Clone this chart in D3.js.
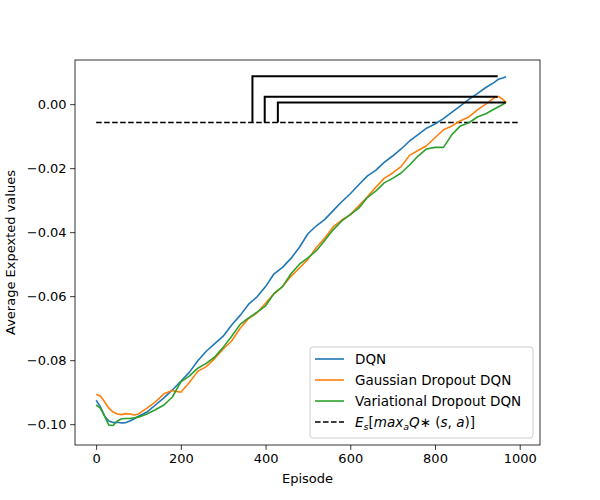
<!DOCTYPE html>
<html lang="en">
<head>
<meta charset="utf-8">
<title>Average expected values</title>
<script src="https://cdn.jsdelivr.net/npm/d3@7/dist/d3.min.js"></script>
<style>
  body { margin: 0; background: #fff; }
  text { font-family: "DejaVu Sans", sans-serif; }
</style>
</head>
<body>
<script>
// ---- data ----
var episodes = [0, 10, 20, 30, 40, 50, 60, 70, 80, 90,
  100, 120, 140, 160, 180, 200, 220, 240, 260, 280, 300, 320, 340, 360, 380,
  400, 420, 440, 460, 480, 500, 520, 540, 560, 580, 600, 620, 640, 660, 680,
  700, 720, 740, 760, 780, 800, 820, 840, 860, 880, 900, 920, 940, 950, 960, 968];

var dqn = [-0.0925, -0.0945, -0.0975, -0.0990, -0.0995, -0.0994, -0.0996, -0.0995, -0.0990, -0.0983,
  -0.0975, -0.0962, -0.0940, -0.0918, -0.0893, -0.0866, -0.0838, -0.0802, -0.0772, -0.0748,
  -0.0725, -0.0690, -0.0660, -0.0625, -0.0602, -0.0570, -0.0530, -0.0510, -0.0482, -0.0447,
  -0.0405, -0.0380, -0.0360, -0.0332, -0.0305, -0.0280, -0.0252, -0.0225, -0.0207, -0.0182,
  -0.0162, -0.0140, -0.0115, -0.0095, -0.0075, -0.0062, -0.0045, -0.0025, -0.0005, 0.0015,
  0.0033, 0.0052, 0.0068, 0.0078, 0.0082, 0.0086];

var gaussian = [-0.0907, -0.0912, -0.0930, -0.0950, -0.0962, -0.0968, -0.0970, -0.0967, -0.0968, -0.0971,
  -0.0968, -0.0950, -0.0930, -0.0905, -0.0895, -0.0900, -0.0870, -0.0835, -0.0820, -0.0795,
  -0.0765, -0.0740, -0.0700, -0.0670, -0.0652, -0.0622, -0.0592, -0.0570, -0.0538, -0.0512,
  -0.0485, -0.0448, -0.0418, -0.0383, -0.0362, -0.0345, -0.0318, -0.0290, -0.0260, -0.0232,
  -0.0215, -0.0195, -0.0160, -0.0145, -0.0130, -0.0105, -0.0080, -0.0068, -0.0052, -0.0040,
  -0.0018, 0.0000, 0.0020, 0.0024, 0.0015, 0.0006];

var variational = [-0.0940, -0.0950, -0.0975, -0.1003, -0.1004, -0.0990, -0.0983, -0.0982, -0.0982, -0.0980,
  -0.0978, -0.0968, -0.0955, -0.0940, -0.0915, -0.0868, -0.0850, -0.0825, -0.0810, -0.0790,
  -0.0760, -0.0725, -0.0688, -0.0668, -0.0650, -0.0630, -0.0592, -0.0570, -0.0530, -0.0500,
  -0.0480, -0.0458, -0.0425, -0.0392, -0.0365, -0.0345, -0.0325, -0.0292, -0.0272, -0.0246,
  -0.0232, -0.0215, -0.0190, -0.0162, -0.0140, -0.0135, -0.0135, -0.0095, -0.0068, -0.0058,
  -0.0040, -0.0030, -0.0015, -0.0008, -0.0001, 0.0006];

var seriesNames = ["DQN", "Gaussian Dropout DQN", "Variational Dropout DQN"];
var seriesColors = ["#1f77b4", "#ff7f0e", "#2ca02c"];

// dashed reference level E_s[max_a Q*(s,a)]
var refLevel = -0.00575;
var refEpisodes = [0, 997];

// bracket markers: left episode, right episode, top value
var bracketStart = [369, 398, 429];
var bracketEnd = [948, 948, 967];
var bracketTop = [0.0087, 0.0023, 0.0005];

var xTicks = [0, 200, 400, 600, 800, 1000];
var yTicks = [-0.10, -0.08, -0.06, -0.04, -0.02, 0.00];

// ---- layout ----
var w = 600, h = 500;
var padL = 75, padR = 540, padT = 60, padB = 445;

var svg = d3.select("body").append("svg")
  .attr("width", w)
  .attr("height", h);

var x = d3.scaleLinear().domain([-49.9, 1047.9]).range([padL, padR]);
var y = d3.scaleLinear().domain([-0.1065, 0.0138]).range([padB, padT]);

var plot = svg.append("g");

// reference dashed line
plot.append("line")
  .attr("x1", x(refEpisodes[0])).attr("x2", x(refEpisodes[1]))
  .attr("y1", y(refLevel)).attr("y2", y(refLevel))
  .attr("stroke", "black")
  .attr("stroke-width", 1.6)
  .attr("stroke-dasharray", "5.6,2.4");

// series lines
var line = d3.line()
  .x(function(d) { return x(d[0]); })
  .y(function(d) { return y(d[1]); });

[dqn, gaussian, variational].forEach(function(vals, i) {
  plot.append("path")
    .attr("d", line(episodes.map(function(e, j) { return [e, vals[j]]; })))
    .attr("fill", "none")
    .attr("stroke", seriesColors[i])
    .attr("stroke-width", 1.6)
    .attr("stroke-linejoin", "round");
});

// brackets
bracketStart.forEach(function(s, i) {
  plot.append("path")
    .attr("d", line([[s, refLevel], [s, bracketTop[i]], [bracketEnd[i], bracketTop[i]]]))
    .attr("fill", "none")
    .attr("stroke", "black")
    .attr("stroke-width", 2);
});

// axes
var xAxis = d3.axisBottom(x).tickValues(xTicks).tickSize(4.9).tickPadding(3.5)
  .tickFormat(d3.format("d"));
var yAxis = d3.axisLeft(y).tickValues(yTicks).tickSize(4.9).tickPadding(3.5)
  .tickFormat(function(d) { return d3.format(".2f")(d).replace("-", "\u2212"); });

var gx = svg.append("g").attr("transform", "translate(0," + padB + ")").call(xAxis);
var gy = svg.append("g").attr("transform", "translate(" + padL + ",0)").call(yAxis);
[gx, gy].forEach(function(g) {
  g.select(".domain").remove();
  g.selectAll("line").attr("stroke", "black").attr("stroke-width", 0.8);
  g.selectAll("text").attr("font-size", "13px").attr("fill", "black")
    .attr("font-family", "DejaVu Sans, sans-serif");
});

// frame
svg.append("rect")
  .attr("x", padL).attr("y", padT)
  .attr("width", padR - padL).attr("height", padB - padT)
  .attr("fill", "none")
  .attr("stroke", "black")
  .attr("stroke-width", 0.8);

// axis labels
svg.append("text")
  .attr("x", (padL + padR) / 2).attr("y", 483)
  .attr("text-anchor", "middle")
  .attr("font-size", "13px")
  .text("Episode");

svg.append("text")
  .attr("transform", "translate(15," + (padT + padB) / 2 + ") rotate(-90)")
  .attr("text-anchor", "middle")
  .attr("font-size", "13px")
  .text("Average Expexted values");

// legend
var leg = svg.append("g").attr("transform", "translate(310,347)");
leg.append("rect")
  .attr("width", 223).attr("height", 91)
  .attr("rx", 3)
  .attr("fill", "white").attr("fill-opacity", 0.8)
  .attr("stroke", "#cccccc").attr("stroke-width", 1);

var legItems = seriesNames.map(function(n, i) { return { name: n, color: seriesColors[i], dash: null }; });
legItems.push({ name: null, color: "black", dash: "5.6,2.4" });

legItems.forEach(function(it, i) {
  var ly = 12 + i * 21;
  leg.append("line")
    .attr("x1", 5).attr("x2", 34)
    .attr("y1", ly).attr("y2", ly)
    .attr("stroke", it.color)
    .attr("stroke-width", 1.6)
    .attr("stroke-dasharray", it.dash);
  var t = leg.append("text")
    .attr("x", 45).attr("y", ly + 5)
    .attr("font-size", "13.5px");
  if (it.name) {
    t.text(it.name);
  } else {
    t.attr("font-style", "italic");
    t.append("tspan").text("E");
    t.append("tspan").attr("font-size", "9.5px").attr("dy", 3).text("s");
    t.append("tspan").attr("dy", -3).attr("font-style", "normal").text("[");
    t.append("tspan").text("max");
    t.append("tspan").attr("font-size", "9.5px").attr("dy", 3).text("a");
    t.append("tspan").attr("dy", -3).text("Q");
    t.append("tspan").attr("font-style", "normal").text("\u2217 (");
    t.append("tspan").text("s");
    t.append("tspan").attr("font-style", "normal").text(", ");
    t.append("tspan").text("a");
    t.append("tspan").attr("font-style", "normal").text(")]");
  }
});
</script>
</body>
</html>
